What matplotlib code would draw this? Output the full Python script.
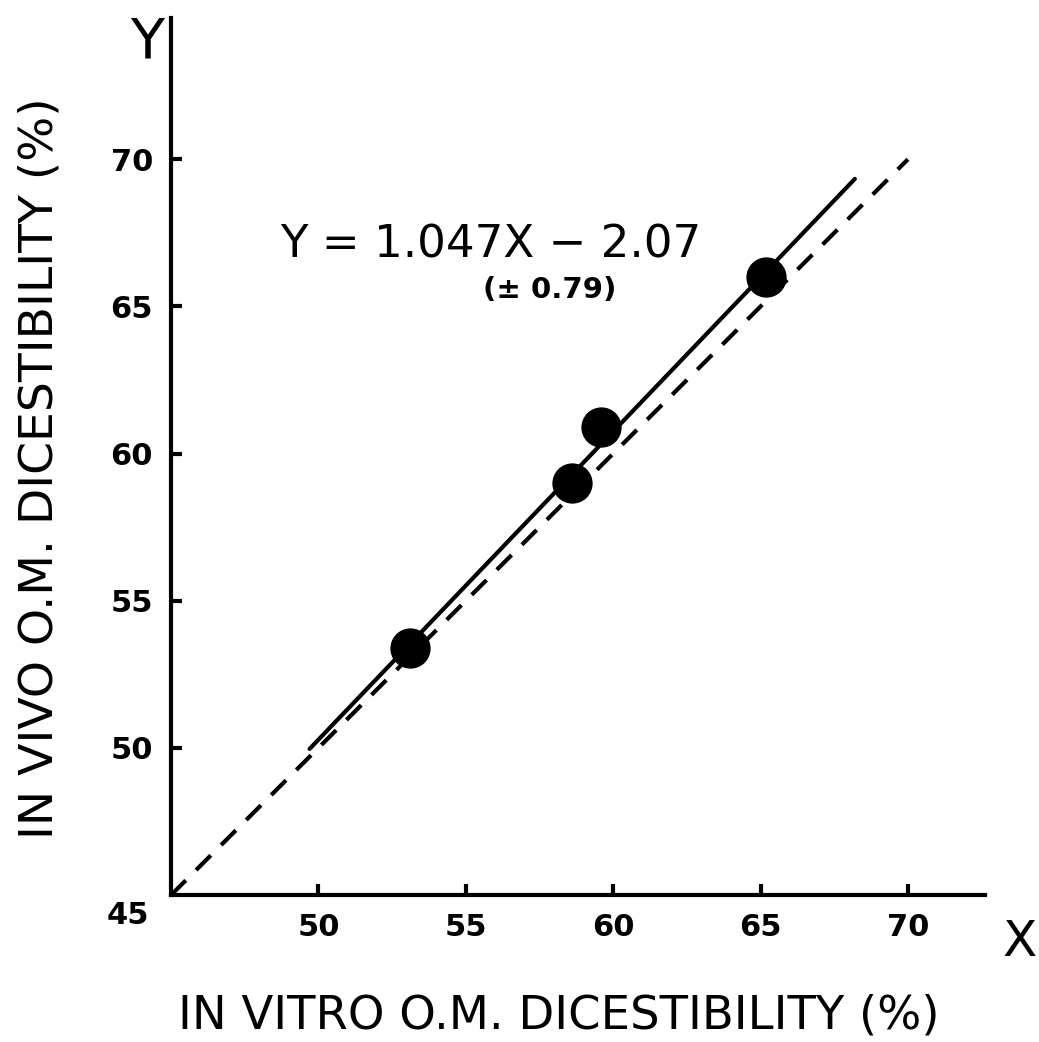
import numpy as np
import matplotlib.pyplot as plt

# data
in_vitro = [53.1, 58.6, 59.6, 65.2]
in_vivo = [53.4, 59.0, 60.9, 66.0]
slope, intercept = 1.047, -2.07
fit_range = [49.7, 68.2]
ticks = [50, 55, 60, 65, 70]

fig = plt.figure(figsize=(10.39, 10.42), dpi=100)
ax = fig.add_axes([0.1646, 0.141, 0.783, 0.8417])
ax.set_xlim(45, 72.6)
ax.set_ylim(45, 74.8)

# 1:1 line and regression line
ax.plot([45, 70], [45, 70], color='black', lw=3, ls=(0, (5, 3.5)), solid_capstyle='round')
fx = np.array(fit_range)
ax.plot(fx, slope * fx + intercept, color='black', lw=3, solid_capstyle='round')
ax.plot(in_vitro, in_vivo, 'o', color='black', ms=28, mec='black')

for s in ['top', 'right']:
    ax.spines[s].set_visible(False)
for s in ['left', 'bottom']:
    ax.spines[s].set_linewidth(3)

ax.set_xticks(ticks)
ax.set_yticks(ticks)
ax.tick_params(direction='in', length=8, width=3, labelsize=22, pad=13)
for lab in ax.get_xticklabels() + ax.get_yticklabels():
    lab.set_fontweight('bold')

fig.text(128 / 1039, 1 - 915 / 1042, '45', fontsize=22, fontweight='bold', ha='center', va='center')
fig.text(147 / 1039, 1 - 42 / 1042, 'Y', fontsize=40, ha='center', va='center')
fig.text(1020 / 1039, 1 - 942 / 1042, 'X', fontsize=36, ha='center', va='center')

fig.text(40 / 1039, 1 - 468 / 1042, 'IN VIVO O.M. DICESTIBILITY (%)', fontsize=34,
         rotation=90, ha='center', va='center')
fig.text(559 / 1039, 1 - 1016 / 1042, 'IN VITRO O.M. DICESTIBILITY (%)', fontsize=33.5,
         ha='center', va='center')

fig.text(280 / 1039, 1 - 245 / 1042, 'Y = 1.047X \u2212 2.07', fontsize=32.5,
         ha='left', va='center')
fig.text(550 / 1039, 1 - 290 / 1042, '(\u00b1 0.79)', fontsize=21, fontweight='bold',
         ha='center', va='center')

fig.savefig('out.png', dpi=100, facecolor='white')
